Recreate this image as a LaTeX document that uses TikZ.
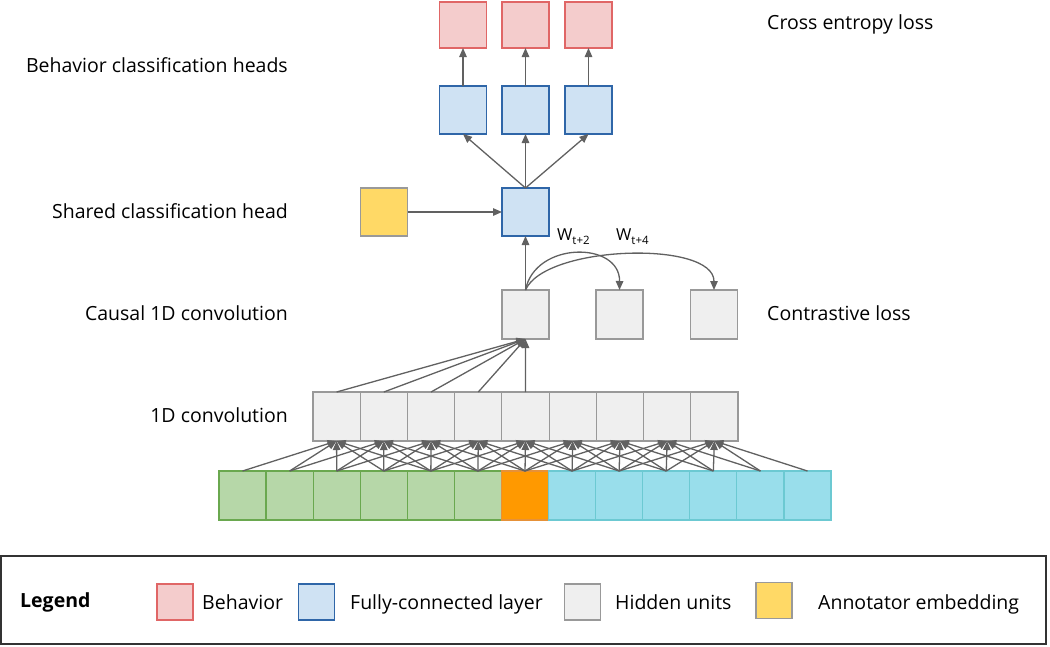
\documentclass[tikz,border=0pt]{standalone}
\usepackage{fontspec}
\setmainfont{Open Sans}
\usetikzlibrary{arrows.meta}
\definecolor{behf}{HTML}{F4CCCC}\definecolor{behs}{HTML}{E06666}
\definecolor{fcf}{HTML}{CFE2F3}\definecolor{fcs}{HTML}{2F66A8}
\definecolor{hidf}{HTML}{EFEFEF}\definecolor{hids}{HTML}{999999}
\definecolor{annf}{HTML}{FFD966}
\definecolor{grnf}{HTML}{B6D7A8}\definecolor{grns}{HTML}{6AA84F}
\definecolor{orf}{HTML}{FF9900}\definecolor{ors}{HTML}{E69138}
\definecolor{cyf}{HTML}{99DEEB}\definecolor{cys}{HTML}{6CC9D2}
\definecolor{arrc}{HTML}{616161}
\definecolor{legc}{HTML}{333333}
\begin{document}
\begin{tikzpicture}[x=1pt,y=-1pt,
  cell/.style={draw, line width=1.2pt, inner sep=0pt, outer sep=0pt, minimum width=47pt, minimum height=48pt},
  behbox/.style={cell, fill=behf, draw=behs},
  fcbox/.style={cell, fill=fcf, draw=fcs},
  hidbox/.style={cell, fill=hidf, draw=hids},
  annbox/.style={cell, fill=annf, draw=hids},
  legsq/.style={cell, minimum width=36pt, minimum height=36pt},
  arr/.style={draw=arrc, line width=1.3pt, -{Triangle[length=9pt,width=7.5pt]}},
  lbl/.style={inner sep=0pt, font=\fontsize{19.5}{23}\selectfont, text height=14.5pt, text depth=4pt},
  sub/.style={inner sep=0pt, font=\fontsize{16.5}{19}\selectfont}
]
\useasboundingbox (0,0) rectangle (1050,646);

% behavior heads
\foreach \i/\x in {0/463,1/525.5,2/588.5}{
  \node[behbox, minimum height=46pt] (b\i) at (\x,25) {};
  \node[fcbox] (f\i) at (\x,110) {};
}
\node[fcbox] (sh) at (525.5,212) {};
\node[annbox] (ann) at (384,212) {};

% causal conv
\node[hidbox, minimum height=49pt] (k0) at (525.5,314.5) {};
\node[hidbox, minimum height=49pt] (k1) at (619.5,314.5) {};
\node[hidbox, minimum height=49pt] (k2) at (714,314.5) {};

% 1D conv
\foreach \i in {0,...,8}{
  \node[hidbox, minimum width=47.22pt, minimum height=49pt] (c\i) at ({313+47.22*(\i+0.5)},416.5) {};
}
% input
\foreach \j in {0,...,12}{
  \ifnum\j<6
    \node[cell, fill=grnf, draw=grns, minimum width=47.08pt, minimum height=49pt] (in\j) at ({219+47.08*(\j+0.5)},495.5) {};
  \else\ifnum\j=6
    \node[cell, fill=orf, draw=ors, minimum width=47.08pt, minimum height=49pt] (in\j) at ({219+47.08*(\j+0.5)},495.5) {};
  \else
    \node[cell, fill=cyf, draw=cys, minimum width=47.08pt, minimum height=49pt] (in\j) at ({219+47.08*(\j+0.5)},495.5) {};
  \fi\fi
}

% input -> conv arrows
\foreach \i in {0,...,8}{
  \foreach \d in {0,...,4}{
    \pgfmathtruncatemacro{\j}{\i+\d}
    \draw[arr] (in\j.north) -- (c\i.south);
  }
}
% conv -> causal
\foreach \i in {0,...,4}{
  \draw[arr] (c\i.north) -- (k0.south);
}
\draw[arr] (k0.north) -- (sh.south);
\draw[arr] (ann.east) -- (sh.west);
\foreach \i in {0,1,2}{
  \draw[arr] (sh.north) -- (f\i.south);
  \draw[arr] (f\i.north) -- (b\i.south);
}
\draw[arr] (k0.north) .. controls (535,241) and (620,241) .. (k1.north);
\draw[arr] (k0.north) .. controls (545,245) and (714,240) .. (k2.north);
\node[sub, anchor=base west] (w2) at (557,240) {W\raisebox{-0.3em}{\fontsize{11.5}{13}\selectfont t+2}};
\node[sub, anchor=base west] (w4) at (616,240) {W\raisebox{-0.3em}{\fontsize{11.5}{13}\selectfont t+4}};

% labels
\node[lbl, anchor=base east] (lbh) at (288,72) {Behavior classification heads};
\node[lbl, anchor=base west] (lce) at (767,29) {Cross entropy loss};
\node[lbl, anchor=base east] (lsh) at (288,218) {Shared classification head};
\node[lbl, anchor=base east] (lcc) at (288,320) {Causal 1D convolution};
\node[lbl, anchor=base east] (lc) at (288,422) {1D convolution};
\node[lbl, anchor=base west] (lcl) at (767,320) {Contrastive loss};

% legend
\node[draw=legc, line width=1.6pt, inner sep=0pt, minimum width=1045pt, minimum height=88pt] (legend) at (523.5,600) {};
\node[lbl, anchor=base west, font=\fontsize{19.5}{23}\selectfont\bfseries] (lg) at (20,607) {Legend};
\node[legsq, fill=behf, draw=behs] (s1) at (175,602) {};
\node[lbl, anchor=base west] (t1) at (202,609) {Behavior};
\node[legsq, fill=fcf, draw=fcs] (s2) at (316.5,602) {};
\node[lbl, anchor=base west] (t2) at (350,609) {Fully-connected layer};
\node[legsq, fill=hidf, draw=hids] (s3) at (582.5,602) {};
\node[lbl, anchor=base west] (t3) at (615,609) {Hidden units};
\node[legsq, fill=annf, draw=hids] (s4) at (774,600.5) {};
\node[lbl, anchor=base west] (t4) at (818,609) {Annotator embedding};
\end{tikzpicture}
\end{document}
